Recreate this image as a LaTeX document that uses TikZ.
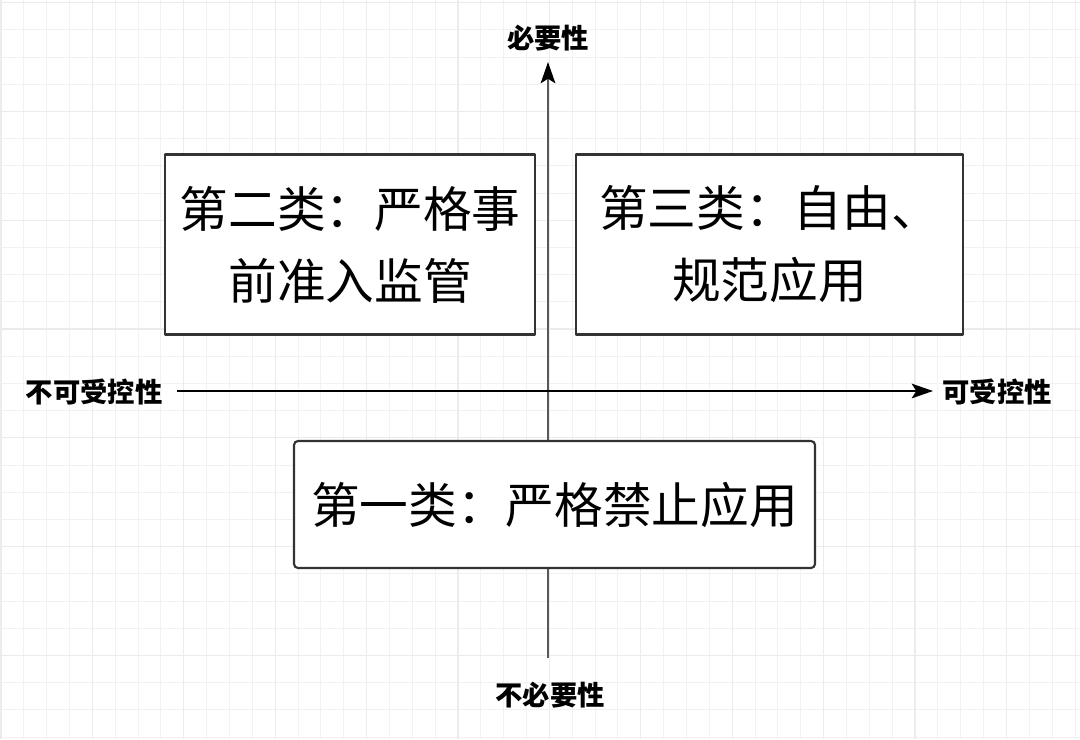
\documentclass[tikz,border=0pt]{standalone}
\usepackage{fontspec}
\setmainfont{Noto Sans CJK SC}
\usetikzlibrary{arrows.meta}

\begin{document}
\begin{tikzpicture}[x=0.75pt, y=-0.75pt, line join=round,
	loai/.style={draw=black!80, line width=1.6pt, fill=white, align=center, inner sep=0pt, font=\fontsize{36.5}{54}\selectfont},
	nhan/.style={font=\fontsize{20.5}{24}\selectfont\bfseries, inner sep=0pt},
	truc/.style={line width=1.5pt, -{Stealth[length=16pt, width=11pt, inset=3.5pt, color=black]}}]
	\useasboundingbox (0,0) rectangle (1080,739);
	\fill[white] (0,0) rectangle (1080,739);

	% Lưới nền
	\foreach \i in {0,...,47} \draw[gray!10, line width=0.7pt] ({1+22.85*\i},0) -- ({1+22.85*\i},739);
	\foreach \j in {0,...,27} \draw[gray!11, line width=0.7pt] (0,{2.6+27.2*\j}) -- (1080,{2.6+27.2*\j});
	\foreach \i in {0,4,...,44} \draw[gray!15, line width=0.8pt] ({1+22.85*\i},0) -- ({1+22.85*\i},739);
	\foreach \j in {0,4,...,24} \draw[gray!16, line width=0.8pt] (0,{2.6+27.2*\j}) -- (1080,{2.6+27.2*\j});

	% Nhãn trục
	\node[nhan] (nec) at (548,38) {必要性};
	\node[nhan] (unnec) at (550,695) {不必要性};
	\node[nhan] (uncon) at (94,392) {不可受控性};
	\node[nhan] (con) at (997,392) {可受控性};

	% Trục
	\coordinate (vbot) at (548,658);
	\coordinate (vtop) at (548,62);
	\coordinate (hleft) at (177,391);
	\coordinate (hright) at (933,391);
	\draw[truc, black!65] (vbot) -- (vtop);
	\draw[truc, black] (hleft) -- (hright);

	% Ba loại
	\node[loai, minimum width=277.5pt, minimum height=135pt] (cls2) at (350,244.5) {第二类：严格事\\前准入监管};
	\node[loai, minimum width=290.25pt, minimum height=135pt] (cls3) at (769.5,244.5) {第三类：自由、\\规范应用};
	\node[loai, rounded corners=3pt, minimum width=390.75pt, minimum height=95.25pt] (cls1) at (554.5,504.5) {\raisebox{-3.5pt}{第一类：严格禁止应用}};
\end{tikzpicture}
\end{document}
